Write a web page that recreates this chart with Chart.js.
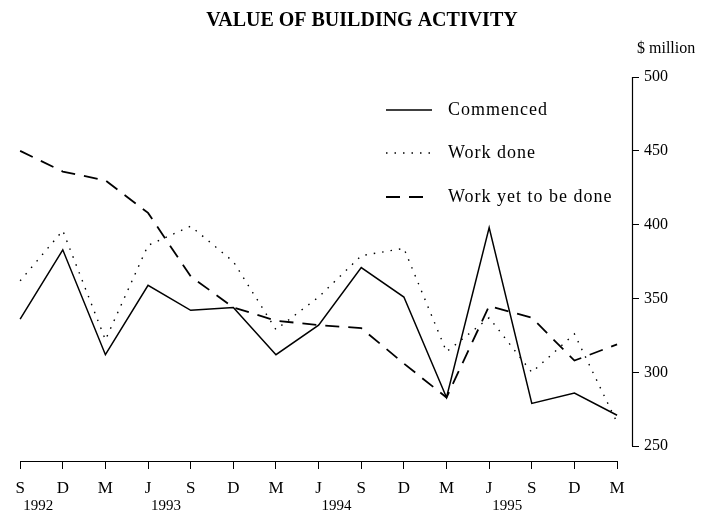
<!DOCTYPE html>
<html>
<head>
<meta charset="utf-8">
<script src="https://cdn.jsdelivr.net/npm/chart.js@4/dist/chart.umd.min.js"></script>
<style>
  body { margin: 0; background: #fff; }
</style>
</head>
<body>
<canvas id="chart" width="708" height="517"></canvas>
<script>
// quarters, Sep 1992 to Mar 1996
const categories = ['S', 'D', 'M', 'J', 'S', 'D', 'M', 'J', 'S', 'D', 'M', 'J', 'S', 'D', 'M'];
const years = ['1992', '', '', '1993', '', '', '', '1994', '', '', '', '1995', '', '', ''];

// $ million
const commenced = [336, 383, 312, 359, 342, 344, 312, 332, 371, 351, 283, 398, 279, 286, 271];
const workDone = [362, 396, 322, 386, 399, 375, 329, 351, 379, 384, 314, 337, 300, 326, 266];
const workYet = [450, 436, 430, 408, 365, 344, 335, 332, 330, 306, 283, 345, 337, 308, 319];

const yTickValues = [250, 300, 350, 400, 450, 500];

const serif = '"Liberation Serif", "DejaVu Serif", serif';

const toPoints = (arr) => arr.map((v, i) => ({ x: i, y: v }));

const overlay = {
  id: 'overlay',
  afterDraw(chart) {
    const { ctx, chartArea, scales } = chart;
    const x = scales.x, y = scales.y;
    ctx.save();
    ctx.strokeStyle = '#000';
    ctx.fillStyle = '#000';
    ctx.lineWidth = 1.2;

    // axis lines only span the ticks
    ctx.beginPath();
    ctx.moveTo(chartArea.right + 0.5, y.getPixelForValue(500));
    ctx.lineTo(chartArea.right + 0.5, y.getPixelForValue(250));
    ctx.stroke();
    ctx.beginPath();
    ctx.moveTo(x.getPixelForValue(0), chartArea.bottom + 0.5);
    ctx.lineTo(x.getPixelForValue(categories.length - 1), chartArea.bottom + 0.5);
    ctx.stroke();

    // title
    ctx.font = 'bold 20px ' + serif;
    ctx.textAlign = 'center';
    ctx.textBaseline = 'middle';
    ctx.fillText('VALUE OF BUILDING ACTIVITY', 362, 21);

    // unit
    ctx.font = '16px ' + serif;
    ctx.textAlign = 'left';
    ctx.fillText('$ million', 637, 49);

    // year labels under the quarter letters
    ctx.font = '15px ' + serif;
    ctx.textAlign = 'center';
    years.forEach((yr, i) => {
      if (yr) ctx.fillText(yr, x.getPixelForValue(i) + 18, 506);
    });

    // legend
    const rows = [110, 153, 197];
    chart.data.datasets.forEach((ds, i) => {
      const ry = rows[i];
      ctx.save();
      ctx.lineWidth = ds.borderWidth;
      ctx.setLineDash(ds.borderDash || []);
      ctx.beginPath();
      ctx.moveTo(386, ry);
      ctx.lineTo(432, ry);
      ctx.stroke();
      ctx.restore();
      ctx.save();
      ctx.font = '18px ' + serif;
      ctx.letterSpacing = '1px';
      ctx.textAlign = 'left';
      ctx.textBaseline = 'middle';
      ctx.fillText(ds.label, 448, ry);
      ctx.restore();
    });
    ctx.restore();
  }
};

new Chart(document.getElementById('chart'), {
  type: 'line',
  data: {
    datasets: [
      {
        label: 'Commenced',
        data: toPoints(commenced),
        borderColor: '#000',
        borderWidth: 1.5,
        pointRadius: 0,
      },
      {
        label: 'Work done',
        data: toPoints(workDone),
        borderColor: '#000',
        borderWidth: 1.4,
        borderDash: [1.5, 7],
        pointRadius: 0,
      },
      {
        label: 'Work yet to be done',
        data: toPoints(workYet),
        borderColor: '#000',
        borderWidth: 1.8,
        borderDash: [14, 9],
        pointRadius: 0,
      },
    ],
  },
  options: {
    responsive: false,
    animation: false,
    layout: { padding: { top: 77, left: 18, right: 0, bottom: 0 } },
    plugins: {
      legend: { display: false },
      title: { display: false },
      tooltip: { enabled: false },
    },
    scales: {
      x: {
        type: 'linear',
        min: -0.05,
        max: 14.35,
        afterFit: (s) => { s.height = 56; },
        border: { display: false },
        grid: { drawOnChartArea: false, drawTicks: true, tickLength: 8, color: '#000' },
        ticks: {
          stepSize: 1,
          includeBounds: false,
          autoSkip: false,
          maxRotation: 0,
          padding: 9,
          color: '#000',
          font: { family: serif, size: 17 },
          callback: (v) => categories[v] ?? '',
        },
      },
      y: {
        position: 'right',
        min: 240,
        max: 500,
        afterFit: (s) => { s.width = 76; },
        afterBuildTicks: (s) => { s.ticks = yTickValues.map((v) => ({ value: v })); },
        border: { display: false },
        grid: { drawOnChartArea: false, drawTicks: true, tickLength: 7, color: '#000' },
        ticks: {
          padding: 5,
          color: '#000',
          font: { family: serif, size: 16 },
        },
      },
    },
  },
  plugins: [overlay],
});
</script>
</body>
</html>
